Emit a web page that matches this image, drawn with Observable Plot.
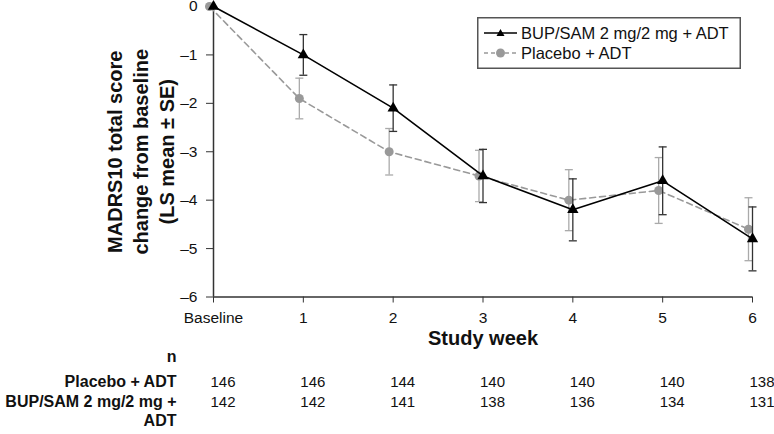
<!DOCTYPE html>
<html>
<head>
<meta charset="utf-8">
<script src="https://cdn.jsdelivr.net/npm/d3@7"></script>
<script src="https://cdn.jsdelivr.net/npm/@observablehq/plot@0.6"></script>
<style>
  html, body { margin: 0; padding: 0; background: #fff; }
  #wrap { position: relative; width: 774px; height: 434px; font-family: 'Liberation Sans', Arial, sans-serif; }
  #legend { position: absolute; left: 477px; top: 17px; }
</style>
</head>
<body>
<div id="wrap"></div>
<script>
// ---- data ----
const weeks = [0, 1, 2, 3, 4, 5, 6];
const weekLabels = ["Baseline", "1", "2", "3", "4", "5", "6"];
const bupMean = [0, -1.0, -2.1, -3.5, -4.2, -3.6, -4.8];
const bupSE   = [0, 0.42, 0.48, 0.55, 0.64, 0.70, 0.66];
const pboMean = [0, -1.9, -3.0, -3.5, -4.0, -3.8, -4.6];
const pboSE   = [0, 0.42, 0.48, 0.53, 0.63, 0.68, 0.65];
const nPbo = [146, 146, 144, 140, 140, 140, 138];
const nBup = [142, 142, 141, 138, 136, 134, 131];
const yTicks = [0, -1, -2, -3, -4, -5, -6];
const seriesNames = ["BUP/SAM 2 mg/2 mg + ADT", "Placebo + ADT"];
const yLabel = "MADRS10 total score\nchange from baseline\n(LS mean \u00b1 SE)";
const xLabel = "Study week";
const rowHeader = "n";
const rowLabelPbo = "Placebo + ADT";
const rowLabelBup1 = "BUP/SAM 2 mg/2 mg +";
const rowLabelBup2 = "ADT";

const bup = weeks.map((w, i) => ({week: w, mean: bupMean[i], se: bupSE[i]}));
const pbo = weeks.map((w, i) => ({week: w, mean: pboMean[i], se: pboSE[i]}));
const bupErr = bup.filter(d => d.se > 0);
const pboErr = pbo.filter(d => d.se > 0);
const nRowsPbo = weeks.map((w, i) => ({week: w, n: nPbo[i]}));
const nRowsBup = weeks.map((w, i) => ({week: w, n: nBup[i]}));

const cap = {draw(ctx) { ctx.moveTo(-4, 0); ctx.lineTo(4, 0); }};
const fmtY = d => d === 0 ? "0" : "\u2013" + Math.abs(d);
const PBO_DX = -4;
const FONT = "'Liberation Sans', Arial, sans-serif";

const chart = Plot.plot({
  width: 774,
  height: 434,
  marginLeft: 213,
  marginRight: 22,
  marginTop: 6,
  marginBottom: 137.5,
  style: {fontFamily: FONT, fontSize: "15px", color: "#111", background: "#fff"},
  x: {domain: [0, 6]},
  y: {domain: [-6, 0]},
  marks: [
    Plot.axisX({ticks: weeks, tickFormat: d => weekLabels[d], tickSize: 6, tickPadding: 9, fontSize: 15.5, stroke: "#333", label: null}),
    Plot.axisY({ticks: yTicks, tickFormat: fmtY, tickSize: 7, tickPadding: 9, fontSize: 15.5, stroke: "#333", label: null}),
    Plot.ruleY([-6], {stroke: "#333", strokeWidth: 1.5}),
    Plot.ruleX([0], {stroke: "#333", strokeWidth: 1.5}),
    // placebo
    Plot.ruleX(pboErr, {x: "week", y1: d => d.mean - d.se, y2: d => d.mean + d.se, dx: PBO_DX, stroke: "#aaa", strokeWidth: 1.3}),
    Plot.dot(pboErr, {x: "week", y: d => d.mean - d.se, dx: PBO_DX, symbol: cap, stroke: "#aaa", strokeWidth: 1.3}),
    Plot.dot(pboErr, {x: "week", y: d => d.mean + d.se, dx: PBO_DX, symbol: cap, stroke: "#aaa", strokeWidth: 1.3}),
    Plot.line(pbo, {x: "week", y: "mean", dx: PBO_DX, stroke: "#999", strokeWidth: 1.6, strokeDasharray: "6,4"}),
    Plot.dot(pbo, {x: "week", y: "mean", dx: PBO_DX, r: 4.5, fill: "#999"}),
    // BUP/SAM
    Plot.ruleX(bupErr, {x: "week", y1: d => d.mean - d.se, y2: d => d.mean + d.se, stroke: "#333", strokeWidth: 1.3}),
    Plot.dot(bupErr, {x: "week", y: d => d.mean - d.se, symbol: cap, stroke: "#333", strokeWidth: 1.3}),
    Plot.dot(bupErr, {x: "week", y: d => d.mean + d.se, symbol: cap, stroke: "#333", strokeWidth: 1.3}),
    Plot.line(bup, {x: "week", y: "mean", stroke: "#000", strokeWidth: 1.6}),
    Plot.dot(bup, {x: "week", y: "mean", symbol: "triangle", r: 4.2, fill: "#000"}),
    // axis titles
    Plot.text([yLabel], {frameAnchor: "left", textAnchor: "middle", lineAnchor: "middle", dx: -74, rotate: -90, fontSize: 20, fontWeight: "bold", lineHeight: 1.3, fill: "#111"}),
    Plot.text([xLabel], {frameAnchor: "bottom", textAnchor: "middle", dy: 47.5, fontSize: 20, fontWeight: "bold", fill: "#111"}),
    // n table
    Plot.text([rowHeader], {frameAnchor: "bottom-left", dx: -37, dy: 64.5, textAnchor: "end", fontSize: 16, fontWeight: "bold", fill: "#111"}),
    Plot.text([rowLabelPbo], {frameAnchor: "bottom-left", dx: -37, dy: 89.5, textAnchor: "end", fontSize: 16, fontWeight: "bold", fill: "#111"}),
    Plot.text([rowLabelBup1], {frameAnchor: "bottom-left", dx: -37, dy: 110, textAnchor: "end", fontSize: 16, fontWeight: "bold", fill: "#111"}),
    Plot.text([rowLabelBup2], {frameAnchor: "bottom-left", dx: -37, dy: 129, textAnchor: "end", fontSize: 16, fontWeight: "bold", fill: "#111"}),
    Plot.text(nRowsPbo, {x: "week", frameAnchor: "bottom", text: "n", dx: -3, dy: 89.5, textAnchor: "start", fontSize: 15, fill: "#111"}),
    Plot.text(nRowsBup, {x: "week", frameAnchor: "bottom", text: "n", dx: -3, dy: 110, textAnchor: "start", fontSize: 15, fill: "#111"})
  ]
});

const wrap = document.getElementById("wrap");
wrap.appendChild(chart);

// legend
const ns = "http://www.w3.org/2000/svg";
const leg = document.createElementNS(ns, "svg");
leg.setAttribute("id", "legend");
leg.setAttribute("width", 264);
leg.setAttribute("height", 52);
leg.innerHTML = `
  <rect x="0.75" y="0.75" width="262.5" height="50.5" fill="#fff" stroke="#555" stroke-width="1.5"/>
  <line x1="7" x2="40" y1="16" y2="16" stroke="#000" stroke-width="1.6"/>
  <path d="M23.5,12 L27.5,19 L19.5,19 Z" fill="#000"/>
  <text x="44" y="16" dy="0.36em" font-size="16.5" fill="#111" font-family="${FONT}">${seriesNames[0]}</text>
  <line x1="7" x2="40" y1="36" y2="36" stroke="#999" stroke-width="1.6" stroke-dasharray="4,3"/>
  <circle cx="23.5" cy="36" r="4.5" fill="#999"/>
  <text x="44" y="36" dy="0.36em" font-size="16.5" fill="#111" font-family="${FONT}">${seriesNames[1]}</text>
`;
wrap.appendChild(leg);
</script>
</body>
</html>
